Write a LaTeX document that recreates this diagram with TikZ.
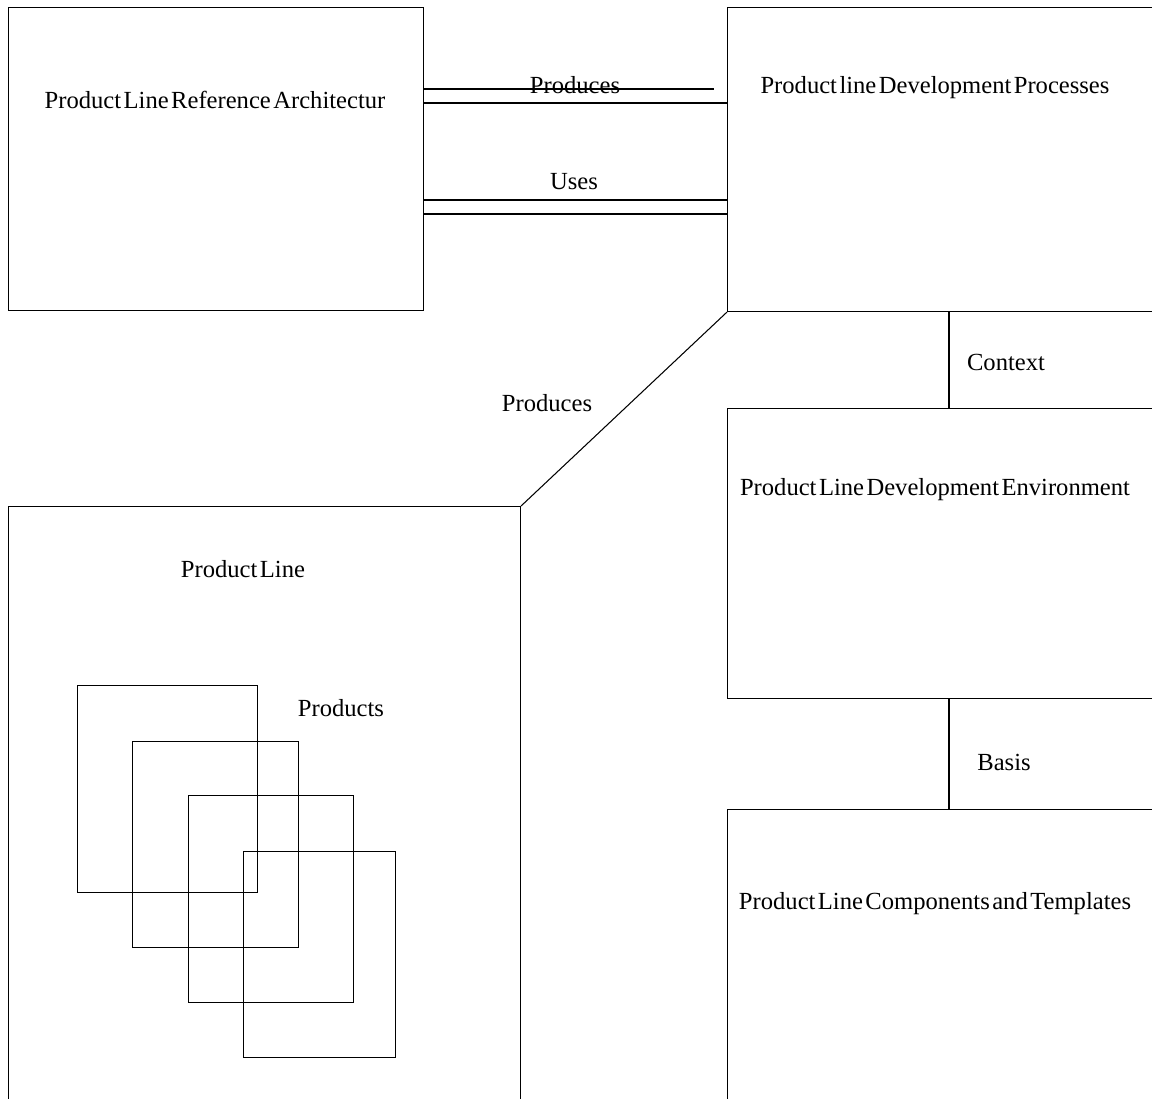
\documentclass[tikz,border=0pt]{standalone}
\usepackage{fontspec}
\setmainfont[WordSpace={0.4}]{Liberation Serif}
\tikzset{
  blk/.style={draw,rectangle,anchor=north west,inner sep=0pt},
  lbl/.style={font=\fontsize{14}{16}\selectfont,inner sep=0pt}
}
\begin{document}
\begin{tikzpicture}[x=0.02cm,y=-0.02cm,line width=.6pt]
\useasboundingbox(0,0) rectangle (1152,1098);
\clip(0,0) rectangle (1152,1098);
% boxes
\node[blk,minimum width=415*0.02cm,minimum height=303*0.02cm](ref) at (8,7){};
\node[blk,minimum width=444*0.02cm,minimum height=304*0.02cm](proc) at (727,7){};
\node[blk,minimum width=444*0.02cm,minimum height=290*0.02cm](env) at (727,408){};
\node[blk,minimum width=444*0.02cm,minimum height=320*0.02cm](comp) at (727,809){};
\node[blk,minimum width=512*0.02cm,minimum height=620*0.02cm](pl) at (8,506){};
\node[lbl](refT) at (215,100){Product Line Reference Architectur};
\node[lbl](procT) at (935,88){Product line Development Processes};
\node[lbl](envT) at (935,490){Product Line Development Environment};
\node[lbl](compT) at (935,904){Product Line Components and Templates};
\node[lbl](plT) at (243,569){Product Line};

% products
\node[blk,minimum width=180*0.02cm,minimum height=207*0.02cm](p1) at (77,685){};
\node[blk,minimum width=166*0.02cm,minimum height=206*0.02cm](p2) at (132,741){};
\node[blk,minimum width=165*0.02cm,minimum height=207*0.02cm](p3) at (188,795){};
\node[blk,minimum width=152*0.02cm,minimum height=206*0.02cm](p4) at (243,851){};
\node[lbl](prodT) at (341,708){Products};

% produces / uses
\coordinate(stop) at (714,89);
\draw(ref.east|-stop)--(stop);
\draw(ref.east|-0,103)--(proc.west|-0,103);
\node[lbl](producesA) at (575,85){Produces};
\draw(ref.east|-0,200)--(proc.west|-0,200);
\draw(ref.east|-0,214)--(proc.west|-0,214);
\node[lbl](uses) at (574,182){Uses};

\draw(pl.north east)--(proc.south west);
\node[lbl](producesB) at (547,403){Produces};

\draw(proc.south-|949,0)--(env.north-|949,0);
\node[lbl](context) at (1006,362){Context};
\draw(env.south-|949,0)--(comp.north-|949,0);
\node[lbl](basis) at (1004,762){Basis};
\end{tikzpicture}
\end{document}
